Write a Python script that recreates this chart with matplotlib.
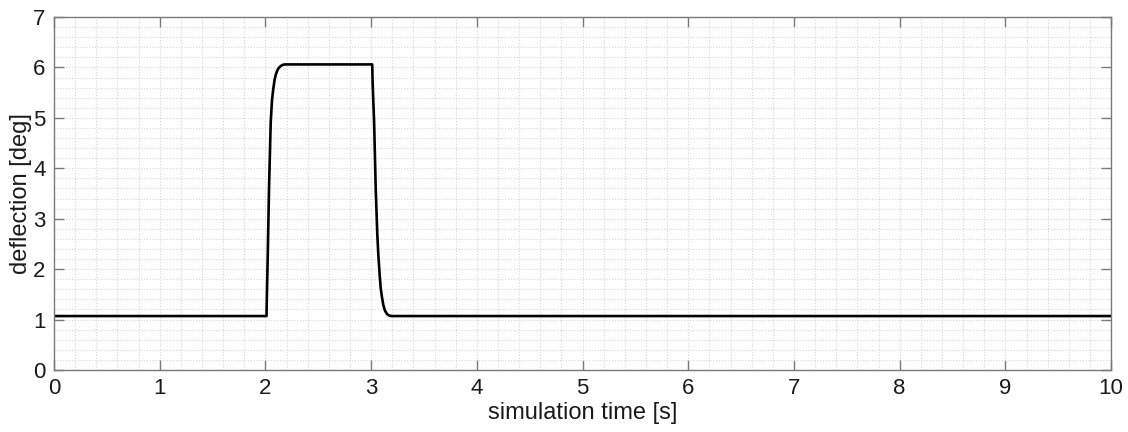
import numpy as np
import matplotlib.pyplot as plt
from matplotlib.ticker import MultipleLocator

# deflection response
time = [0.0, 2.010, 2.014, 2.022, 2.034, 2.050, 2.062, 2.075, 2.087, 2.097,
        2.110, 2.122, 2.140, 2.160, 2.185,
        3.010, 3.014, 3.028, 3.043, 3.058, 3.068, 3.080, 3.090, 3.102,
        3.115, 3.130, 3.150, 3.170, 3.195, 10.0]
deflection = [1.07, 1.07, 1.50, 2.28, 3.61, 4.92, 5.35, 5.59, 5.76, 5.85,
              5.93, 5.98, 6.02, 6.05, 6.06,
              6.06, 5.70, 4.92, 3.61, 2.70, 2.28, 1.90, 1.63, 1.45,
              1.29, 1.18, 1.11, 1.08, 1.07, 1.07]

xticks = list(range(0, 11))
yticks = list(range(0, 8))

plt.rcParams['font.family'] = ['Liberation Sans', 'DejaVu Sans']

fig = plt.figure(figsize=(11.28, 4.32), dpi=100)
ax = fig.add_axes([0.0479, 0.1435, 0.9371, 0.8171])

ax.plot(time, deflection, color='black', linewidth=1.9)

ax.set_xlim(0, 10)
ax.set_ylim(0, 7)
ax.set_xticks(xticks)
ax.set_yticks(yticks)
ax.xaxis.set_minor_locator(MultipleLocator(0.2))
ax.yaxis.set_minor_locator(MultipleLocator(0.2))

ax.grid(which='minor', color='#d6d6d6', linestyle=(0, (1.0, 1.6)), linewidth=0.8)
ax.grid(which='major', color='#d6d6d6', linestyle=(0, (1.0, 1.6)), linewidth=0.8)
ax.set_axisbelow(True)

for s in ax.spines.values():
    s.set_color('#7a7a7a')
    s.set_linewidth(1.0)

ax.tick_params(which='major', direction='in', length=7, width=1.0, color='#7a7a7a',
               labelsize=16, labelcolor='#1a1a1a', top=True, right=True, pad=6)
ax.tick_params(which='minor', length=0)

ax.set_xlabel('simulation time [s]', fontsize=17, color='#1a1a1a', labelpad=2)
ax.set_ylabel('deflection [deg]', fontsize=17, color='#1a1a1a', labelpad=1)

plt.savefig('out.png', dpi=100)
